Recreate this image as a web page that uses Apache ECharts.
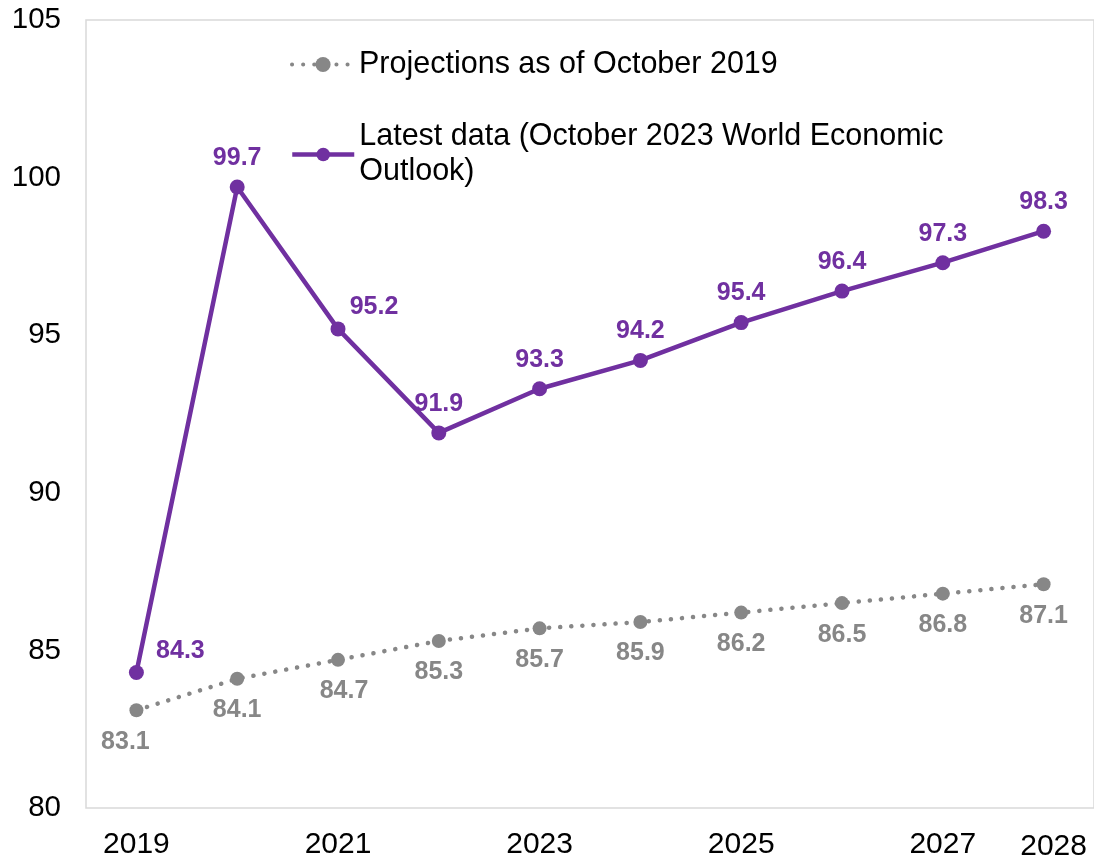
<!DOCTYPE html>
<html>
<head>
<meta charset="utf-8">
<script src="https://cdn.jsdelivr.net/npm/echarts@6/dist/echarts.min.js"></script>
<style>
  html, body { margin: 0; padding: 0; background: #ffffff; }
  #chart { width: 1094px; height: 862px; }
</style>
</head>
<body>
<div id="chart"></div>
<script>
// Years on the horizontal axis
const years = ['2019', '2020', '2021', '2022', '2023', '2024', '2025', '2026', '2027', '2028'];
// Projections as of October 2019
const projections2019 = [83.1, 84.1, 84.7, 85.3, 85.7, 85.9, 86.2, 86.5, 86.8, 87.1];
// Latest data (October 2023 World Economic Outlook)
const latest2023 = [84.3, 99.7, 95.2, 91.9, 93.3, 94.2, 95.4, 96.4, 97.3, 98.3];
// Years that carry a tick label
const labelledYears = ['2019', '2021', '2023', '2025', '2027', '2028'];

const seriesNames = [
  'Projections as of October 2019',
  'Latest data (October 2023 World Economic\nOutlook)'
];

const GRAY = '#878787';
const PURPLE = '#7030a0';
const FONT = '"Liberation Sans", Arial, sans-serif';

// A few labels sit beside their point instead of directly above / below it
const purpleLabelOffsets = { 0: [44, 8], 2: [36, 7] };
const grayLabelOffsets = { 0: [-11, 0], 2: [6, 0] };

const chart = echarts.init(document.getElementById('chart'), null, { renderer: 'canvas' });

chart.setOption({
  animation: false,
  backgroundColor: '#ffffff',
  textStyle: { fontFamily: FONT },
  grid: {
    left: 86, right: 0, top: 20, bottom: 54,
    show: true, borderColor: '#d9d9d9', borderWidth: 1.5,
    containLabel: false
  },
  legend: [
    {
      data: [seriesNames[0]],
      left: 285, top: 44,
      itemWidth: 62, itemHeight: 19,
      lineStyle: { width: 4 },
      textStyle: { fontSize: 30.5, color: '#000000', fontFamily: FONT },
      selectedMode: false
    },
    {
      data: [seriesNames[1]],
      left: 285, top: 97,
      itemWidth: 62, itemHeight: 17,
      lineStyle: { width: 4.5 },
      textStyle: { fontSize: 30.5, lineHeight: 35, color: '#000000', fontFamily: FONT, padding: [35, 0, 0, 0] },
      selectedMode: false
    }
  ],
  xAxis: {
    type: 'category',
    data: years,
    boundaryGap: true,
    axisLine: { show: false },
    axisTick: { show: false },
    splitLine: { show: false },
    axisLabel: {
      interval: 0,
      margin: 22,
      fontSize: 30,
      color: '#000000',
      fontFamily: FONT,
      formatter: function (v) {
        if (labelledYears.indexOf(v) < 0) return '';
        return v === '2028' ? '{last|' + v + '}' : v;
      },
      rich: { last: { fontSize: 30, color: '#000000', fontFamily: FONT, padding: [2, 0, 0, 20] } }
    }
  },
  yAxis: {
    type: 'value',
    min: 80, max: 105, interval: 5,
    axisLine: { show: false },
    axisTick: { show: false },
    splitLine: { show: false },
    axisLabel: { fontSize: 29.5, color: '#000000', margin: 25, fontFamily: FONT }
  },
  series: [
    {
      name: seriesNames[0],
      type: 'line',
      data: projections2019.map(function (v, i) {
        const d = { value: v };
        if (grayLabelOffsets[i]) d.label = { offset: grayLabelOffsets[i] };
        return d;
      }),
      symbol: 'circle',
      symbolSize: 14,
      itemStyle: { color: GRAY },
      lineStyle: { color: GRAY, width: 4.5, type: [0.1, 11], cap: 'round' },
      label: {
        show: true, position: 'bottom', distance: 12,
        color: GRAY, fontSize: 25, fontWeight: 'bold', fontFamily: FONT
      },
      z: 2
    },
    {
      name: seriesNames[1],
      type: 'line',
      data: latest2023.map(function (v, i) {
        const d = { value: v };
        if (purpleLabelOffsets[i]) d.label = { offset: purpleLabelOffsets[i] };
        return d;
      }),
      symbol: 'circle',
      symbolSize: 15,
      itemStyle: { color: PURPLE },
      lineStyle: { color: PURPLE, width: 4.5 },
      label: {
        show: true, position: 'top', distance: 9,
        color: PURPLE, fontSize: 25, fontWeight: 'bold', fontFamily: FONT
      },
      z: 3
    }
  ]
});
</script>
</body>
</html>
